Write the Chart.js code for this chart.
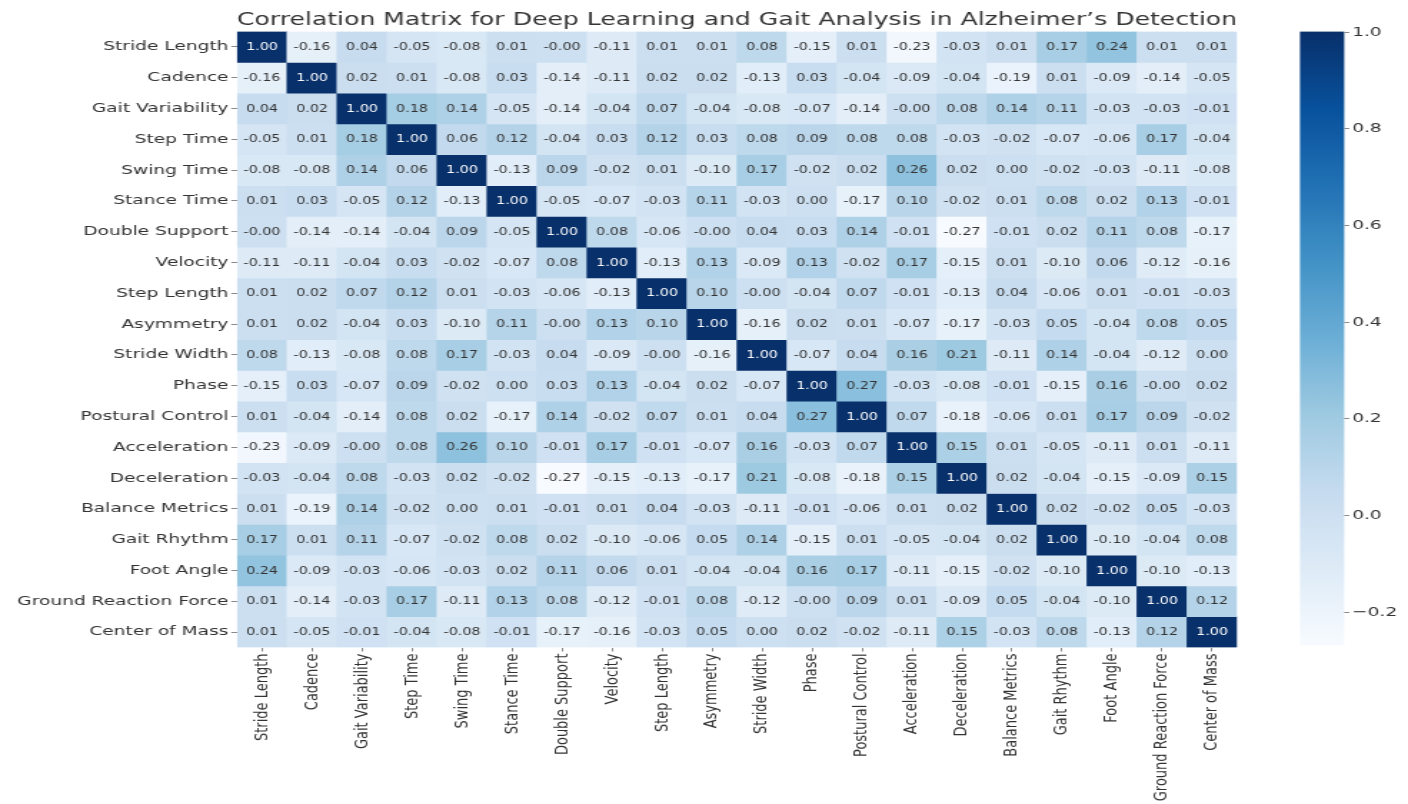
<!DOCTYPE html>
<html>
<head>
<meta charset="utf-8">
<title>Correlation Matrix</title>
<script src="https://cdn.jsdelivr.net/npm/chart.js@4.4.1/dist/chart.umd.min.js"></script>
<style>
  html, body { margin: 0; padding: 0; background: #ffffff; overflow: hidden; }
  /* drawn on a narrower canvas and widened to the page, giving the wide figure aspect */
  #heat { display: block; width: 1408px !important; height: 804px !important; }
</style>
</head>
<body>
<canvas id="heat" width="985" height="804"></canvas>
<script>
// Gait features (rows and columns of the matrix)
const variables = [
  'Stride Length', 'Cadence', 'Gait Variability', 'Step Time', 'Swing Time',
  'Stance Time', 'Double Support', 'Velocity', 'Step Length', 'Asymmetry',
  'Stride Width', 'Phase', 'Postural Control', 'Acceleration', 'Deceleration',
  'Balance Metrics', 'Gait Rhythm', 'Foot Angle', 'Ground Reaction Force', 'Center of Mass'
];

// Pearson correlations, one row per feature (-0 keeps the "-0.00" sign)
const corr = [
  [ 1.00, -0.16,  0.04, -0.05, -0.08,  0.01,    -0, -0.11,  0.01,  0.01,  0.08, -0.15,  0.01, -0.23, -0.03,  0.01,  0.17,  0.24,  0.01,  0.01],
  [-0.16,  1.00,  0.02,  0.01, -0.08,  0.03, -0.14, -0.11,  0.02,  0.02, -0.13,  0.03, -0.04, -0.09, -0.04, -0.19,  0.01, -0.09, -0.14, -0.05],
  [ 0.04,  0.02,  1.00,  0.18,  0.14, -0.05, -0.14, -0.04,  0.07, -0.04, -0.08, -0.07, -0.14,    -0,  0.08,  0.14,  0.11, -0.03, -0.03, -0.01],
  [-0.05,  0.01,  0.18,  1.00,  0.06,  0.12, -0.04,  0.03,  0.12,  0.03,  0.08,  0.09,  0.08,  0.08, -0.03, -0.02, -0.07, -0.06,  0.17, -0.04],
  [-0.08, -0.08,  0.14,  0.06,  1.00, -0.13,  0.09, -0.02,  0.01, -0.10,  0.17, -0.02,  0.02,  0.26,  0.02,  0.00, -0.02, -0.03, -0.11, -0.08],
  [ 0.01,  0.03, -0.05,  0.12, -0.13,  1.00, -0.05, -0.07, -0.03,  0.11, -0.03,  0.00, -0.17,  0.10, -0.02,  0.01,  0.08,  0.02,  0.13, -0.01],
  [   -0, -0.14, -0.14, -0.04,  0.09, -0.05,  1.00,  0.08, -0.06,    -0,  0.04,  0.03,  0.14, -0.01, -0.27, -0.01,  0.02,  0.11,  0.08, -0.17],
  [-0.11, -0.11, -0.04,  0.03, -0.02, -0.07,  0.08,  1.00, -0.13,  0.13, -0.09,  0.13, -0.02,  0.17, -0.15,  0.01, -0.10,  0.06, -0.12, -0.16],
  [ 0.01,  0.02,  0.07,  0.12,  0.01, -0.03, -0.06, -0.13,  1.00,  0.10,    -0, -0.04,  0.07, -0.01, -0.13,  0.04, -0.06,  0.01, -0.01, -0.03],
  [ 0.01,  0.02, -0.04,  0.03, -0.10,  0.11,    -0,  0.13,  0.10,  1.00, -0.16,  0.02,  0.01, -0.07, -0.17, -0.03,  0.05, -0.04,  0.08,  0.05],
  [ 0.08, -0.13, -0.08,  0.08,  0.17, -0.03,  0.04, -0.09,    -0, -0.16,  1.00, -0.07,  0.04,  0.16,  0.21, -0.11,  0.14, -0.04, -0.12,  0.00],
  [-0.15,  0.03, -0.07,  0.09, -0.02,  0.00,  0.03,  0.13, -0.04,  0.02, -0.07,  1.00,  0.27, -0.03, -0.08, -0.01, -0.15,  0.16,    -0,  0.02],
  [ 0.01, -0.04, -0.14,  0.08,  0.02, -0.17,  0.14, -0.02,  0.07,  0.01,  0.04,  0.27,  1.00,  0.07, -0.18, -0.06,  0.01,  0.17,  0.09, -0.02],
  [-0.23, -0.09,    -0,  0.08,  0.26,  0.10, -0.01,  0.17, -0.01, -0.07,  0.16, -0.03,  0.07,  1.00,  0.15,  0.01, -0.05, -0.11,  0.01, -0.11],
  [-0.03, -0.04,  0.08, -0.03,  0.02, -0.02, -0.27, -0.15, -0.13, -0.17,  0.21, -0.08, -0.18,  0.15,  1.00,  0.02, -0.04, -0.15, -0.09,  0.15],
  [ 0.01, -0.19,  0.14, -0.02,  0.00,  0.01, -0.01,  0.01,  0.04, -0.03, -0.11, -0.01, -0.06,  0.01,  0.02,  1.00,  0.02, -0.02,  0.05, -0.03],
  [ 0.17,  0.01,  0.11, -0.07, -0.02,  0.08,  0.02, -0.10, -0.06,  0.05,  0.14, -0.15,  0.01, -0.05, -0.04,  0.02,  1.00, -0.10, -0.04,  0.08],
  [ 0.24, -0.09, -0.03, -0.06, -0.03,  0.02,  0.11,  0.06,  0.01, -0.04, -0.04,  0.16,  0.17, -0.11, -0.15, -0.02, -0.10,  1.00, -0.10, -0.13],
  [ 0.01, -0.14, -0.03,  0.17, -0.11,  0.13,  0.08, -0.12, -0.01,  0.08, -0.12,    -0,  0.09,  0.01, -0.09,  0.05, -0.04, -0.10,  1.00,  0.12],
  [ 0.01, -0.05, -0.01, -0.04, -0.08, -0.01, -0.17, -0.16, -0.03,  0.05,  0.00,  0.02, -0.02, -0.11,  0.15, -0.03,  0.08, -0.13,  0.12,  1.00]
];

// Colour bar tick values
const colorbarTicks = [-0.2, 0.0, 0.2, 0.4, 0.6, 0.8, 1.0];

const titleText = 'Correlation Matrix for Deep Learning and Gait Analysis in Alzheimer\u2019s Detection';
const FONT = '"DejaVu Sans", Verdana, sans-serif';
const INK = '#333333';

// colour scale limits follow the data
const vmin = Math.min(...corr.flat());
const vmax = Math.max(...corr.flat());

// "Blues" sequential colormap
const blues = [
  [247, 251, 255], [222, 235, 247], [198, 219, 239], [158, 202, 225], [107, 174, 214],
  [66, 146, 198], [33, 113, 181], [8, 81, 156], [8, 48, 107]
];
function bluesAt(t) {
  t = Math.max(0, Math.min(1, t));
  const p = t * (blues.length - 1);
  const i = Math.min(blues.length - 2, Math.floor(p));
  const f = p - i;
  return blues[i].map((c, k) => c + (blues[i + 1][k] - c) * f);
}
function rgb(c) { return `rgb(${c.map(Math.round).join(',')})`; }
function cellRGB(v) { return bluesAt((v - vmin) / (vmax - vmin)); }
function luminance(c) {
  const lin = c.map(x => { x /= 255; return x <= 0.03928 ? x / 12.92 : Math.pow((x + 0.055) / 1.055, 2.4); });
  return 0.2126 * lin[0] + 0.7152 * lin[1] + 0.0722 * lin[2];
}
function fmt(v) {
  const neg = v < 0 || Object.is(v, -0);
  return (neg ? '-' : '') + Math.abs(v).toFixed(2);
}

// one floating-bar dataset per matrix row; every bar is one cell
const datasets = corr.map((row, r) => ({
  label: variables[r],
  values: row,
  data: row.map(() => [r, r + 1]),
  backgroundColor: row.map(v => rgb(cellRGB(v))),
  borderWidth: 0,
  barPercentage: 1,
  categoryPercentage: 1,
  grouped: false
}));

// value printed in the middle of each cell
const cellLabels = {
  id: 'cellLabels',
  afterDatasetsDraw(chart) {
    const ctx = chart.ctx;
    ctx.save();
    ctx.font = `10px ${FONT}`;
    ctx.textAlign = 'center';
    ctx.textBaseline = 'middle';
    chart.data.datasets.forEach((ds, di) => {
      chart.getDatasetMeta(di).data.forEach((bar, ci) => {
        const v = ds.values[ci];
        const p = bar.getCenterPoint();
        ctx.fillStyle = luminance(cellRGB(v)) > 0.408 ? INK : '#ffffff';
        ctx.fillText(fmt(v), p.x, p.y + 0.5);
      });
    });
    ctx.restore();
  }
};

// vertical colour bar to the right of the matrix
const colorBar = {
  id: 'colorBar',
  afterDraw(chart) {
    const ctx = chart.ctx;
    const area = chart.chartArea;
    const left = area.right + 44;
    const width = 31;
    const top = area.top;
    const bottom = area.bottom - 2;
    const yOf = v => top + (vmax - v) / (vmax - vmin) * (bottom - top);
    ctx.save();
    const grad = ctx.createLinearGradient(0, bottom, 0, top);
    for (let i = 0; i <= 32; i++) {
      grad.addColorStop(i / 32, rgb(bluesAt(i / 32)));
    }
    ctx.fillStyle = grad;
    ctx.fillRect(left, top, width, bottom - top);
    ctx.strokeStyle = '#888888';
    ctx.lineWidth = 1;
    ctx.fillStyle = INK;
    ctx.font = `13px ${FONT}`;
    ctx.textAlign = 'left';
    ctx.textBaseline = 'middle';
    colorbarTicks.forEach(t => {
      const y = Math.round(yOf(t)) + 0.5;
      ctx.beginPath();
      ctx.moveTo(left + width, y);
      ctx.lineTo(left + width + 3.5, y);
      ctx.stroke();
      const txt = (t < 0 ? '\u2212' : '') + Math.abs(t).toFixed(1);
      ctx.fillText(txt, left + width + 5.5, y);
    });
    ctx.restore();
  }
};

const tickGrid = {
  display: true,
  drawOnChartArea: false,
  drawTicks: true,
  tickLength: 4,
  offset: false,
  color: '#8a8a8a',
  lineWidth: 1
};

new Chart(document.getElementById('heat'), {
  type: 'bar',
  data: { labels: variables, datasets },
  options: {
    responsive: false,
    devicePixelRatio: 1,
    animation: false,
    layout: { padding: { left: 0, right: 119.6, top: 0, bottom: 0 } },
    scales: {
      x: {
        type: 'category',
        offset: true,
        grid: tickGrid,
        border: { display: false },
        ticks: {
          autoSkip: false,
          minRotation: 90,
          maxRotation: 90,
          padding: 2,
          color: INK,
          font: { family: FONT, size: 13 }
        },
        afterFit(scale) { scale.height = 156.5; }
      },
      y: {
        type: 'linear',
        min: 0,
        max: variables.length,
        reverse: true,
        display: false
      },
      rows: {
        type: 'category',
        labels: variables,
        position: 'left',
        offset: true,
        grid: tickGrid,
        border: { display: false },
        ticks: {
          autoSkip: false,
          padding: 2,
          color: INK,
          font: { family: FONT, size: 13 }
        },
        afterFit(scale) { scale.width = 165.8; }
      }
    },
    plugins: {
      legend: { display: false },
      tooltip: { enabled: false },
      title: {
        display: true,
        text: titleText,
        fullSize: false,
        color: INK,
        font: { family: FONT, size: 18, weight: 'normal', lineHeight: 1.2 },
        padding: { top: 10, bottom: 0 }
      }
    }
  },
  plugins: [cellLabels, colorBar]
});
</script>
</body>
</html>
